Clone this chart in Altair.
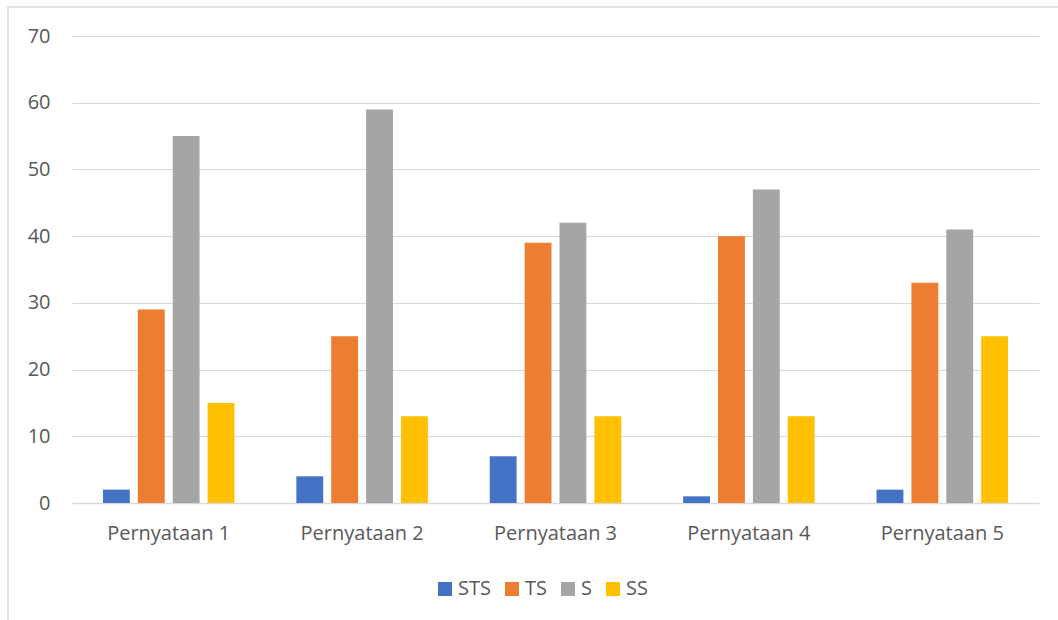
import altair as alt
import pandas as pd

categories = ["Pernyataan 1", "Pernyataan 2", "Pernyataan 3", "Pernyataan 4", "Pernyataan 5"]
series = ["STS", "TS", "S", "SS"]
sts = [2, 4, 7, 1, 2]
ts = [29, 25, 39, 40, 33]
s = [55, 59, 42, 47, 41]
ss = [15, 13, 13, 13, 25]
colors = ["#4472C4", "#ED7D31", "#A5A5A5", "#FFC000"]

rows = []
for name, vals in zip(series, [sts, ts, s, ss]):
    for c, v in zip(categories, vals):
        rows.append({"cat": c, "series": name, "value": v})
df = pd.DataFrame(rows)

FONT = "Open Sans"
TXT = "#595959"
GRID = "#D9D9D9"

bars = alt.Chart(df).mark_bar().encode(
    x=alt.X("cat:N", sort=categories,
            scale=alt.Scale(paddingInner=0.32, paddingOuter=0.16),
            axis=alt.Axis(title=None, labelAngle=0, ticks=False, domain=True,
                          domainColor=GRID, domainWidth=1.5, labelFontSize=20,
                          labelFont=FONT, labelColor=TXT, labelPadding=20, grid=False)),
    xOffset=alt.XOffset("series:N", sort=series,
                        scale=alt.Scale(paddingInner=0.23, paddingOuter=0)),
    y=alt.Y("value:Q", scale=alt.Scale(domain=[0, 70], nice=False),
            axis=alt.Axis(title=None, values=[0, 10, 20, 30, 40, 50, 60, 70],
                          ticks=False, domain=False, grid=True, gridColor=GRID,
                          gridWidth=1.2, labelFontSize=20, labelFont=FONT,
                          labelColor=TXT, labelPadding=22)),
    color=alt.Color("series:N", sort=series,
                    scale=alt.Scale(domain=series, range=colors),
                    legend=alt.Legend(title=None, orient="none", direction="horizontal",
                                      legendX=363, legendY=543, symbolType="square",
                                      symbolSize=196, symbolStrokeWidth=0,
                                      labelFontSize=20, labelFont=FONT, labelColor=TXT,
                                      labelOffset=3, columnPadding=11)),
)

border = alt.Chart(pd.DataFrame({"a": [0]})).mark_rect(
    fill=None, stroke=GRID, strokeWidth=1.5
).encode(
    x=alt.value(-64), x2=alt.value(1000), y=alt.value(-29), y2=alt.value(600)
)

chart = alt.layer(border, bars).properties(
    width=967, height=467,
    background="white",
    padding={"left": 72, "top": 36, "right": 19, "bottom": 117},
    autosize=alt.AutoSizeParams(type="none"),
).configure_view(strokeWidth=0, stroke="transparent")

chart.save("out.html", embed_options={"renderer": "svg", "actions": False})
